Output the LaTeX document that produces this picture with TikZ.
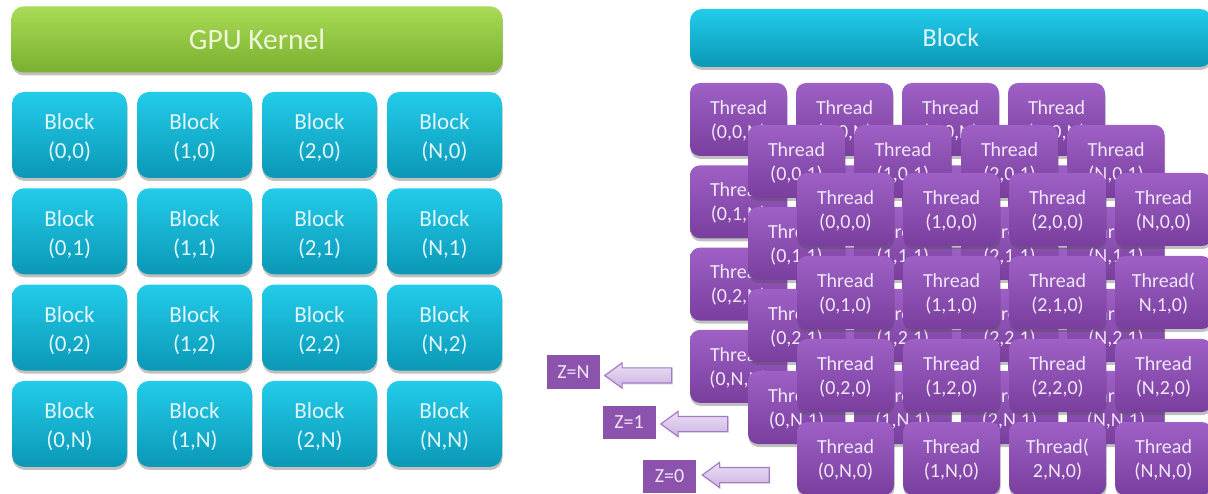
\documentclass[tikz,border=0pt]{standalone}
\usepackage{fontspec}
\setmainfont{Carlito}
\usetikzlibrary{shadows,shapes.arrows}
\definecolor{grnT}{HTML}{A8DB55}
\definecolor{grnB}{HTML}{7AB030}
\definecolor{grnTxt}{HTML}{EEF6D6}
\definecolor{cyT}{HTML}{22CCEA}
\definecolor{cyB}{HTML}{0A98B6}
\definecolor{cyTxt}{HTML}{E2F5F9}
\definecolor{puT}{HTML}{9E60C5}
\definecolor{puB}{HTML}{793E9E}
\definecolor{puTxt}{HTML}{F0E6F6}
\definecolor{zFill}{HTML}{8C53AD}
\definecolor{arrT}{HTML}{EADFF3}
\definecolor{arrB}{HTML}{CDB3E2}
\definecolor{arrD}{HTML}{A57CC4}
% two-line label, shifted down by #1 without changing its reported size
\newcommand\twoline[3]{\raisebox{-#1}[\height][\depth]{\begin{tabular}{@{}c@{}}#2\\#3\end{tabular}}}
\tikzset{
  shad/.style={drop shadow={shadow xshift=0.5pt, shadow yshift=-3pt, opacity=0.35, fill=black!70}},
  hdr/.style={shad, rounded corners=12pt, inner sep=0pt, align=center},
  blk/.style={shad, rounded corners=12pt, top color=cyT, bottom color=cyB, text=cyTxt,
    minimum width=115pt, minimum height=86pt, inner sep=0pt,
    font=\fontsize{23}{29}\selectfont},
  thr/.style={shad, rounded corners=10pt, top color=puT, bottom color=puB, text=puTxt,
    minimum width=97pt, minimum height=73pt, inner sep=0pt,
    font=\fontsize{20}{24}\selectfont},
  zbox/.style={drop shadow={shadow xshift=0.5pt, shadow yshift=-1.5pt, shadow scale=1.04, opacity=0.3},
    fill=zFill, draw=white, line width=4pt, minimum width=57pt, minimum height=37pt,
    inner sep=0pt, text=puTxt, font=\fontsize{20}{24}\selectfont},
  zarrow/.style={single arrow, shape border rotate=180, top color=arrT, bottom color=arrB,
    draw=arrD, line width=1.2pt,
    inner sep=7pt, single arrow head extend=5pt, single arrow tip angle=72,
    minimum height=67pt, drop shadow={shadow xshift=1pt, shadow yshift=-1.5pt, opacity=0.2}}
}
\begin{document}
\begin{tikzpicture}[x=1pt,y=-1pt]
\useasboundingbox (0,0) rectangle (1208,494);
\fill[white] (0,0) rectangle (1208,494);
% left: kernel
\node[hdr, top color=grnT, bottom color=grnB, text=grnTxt, minimum width=491pt, minimum height=66pt,
  font=\fontsize{29.5}{33}\selectfont] (kernel) at (257,39.5) {GPU Kernel};
\foreach \c [count=\i from 0] in {0,1,2,N} {
  \foreach \r [count=\j from 0] in {0,1,2,N} {
    \node[blk] (b-\i-\j) at (69.5+125*\i, 135+96.3*\j) {\twoline{3.5pt}{Block}{(\c,\r)}};
  }
}
% right: block header
\node[hdr, top color=cyT, bottom color=cyB, text=cyTxt, minimum width=522pt, minimum height=58pt,
  font=\fontsize{26}{30}\selectfont] (block) at (951,38) {Block};
% back layer z=N
\foreach \c [count=\i from 0] in {0,1,2,N} {
  \foreach \r [count=\j from 0] in {0,1,2,N} {
    \node[thr] (tN-\i-\j) at (738.5+106*\i, 119.5+82.3*\j) {\twoline{2pt}{Thread}{(\c,\r,N)}};
  }
}
% middle layer z=1
\foreach \c [count=\i from 0] in {0,1,2,N} {
  \foreach \r [count=\j from 0] in {0,1,2,N} {
    \node[thr] (t1-\i-\j) at (796.5+106.5*\i, 161.5+82*\j) {\twoline{2pt}{Thread}{(\c,\r,1)}};
  }
}
% front layer z=0
\node[thr] (t0-0-0) at (845.5,209.5) {\twoline{2pt}{Thread}{(0,0,0)}};
\node[thr] (t0-1-0) at (951.5,209.5) {\twoline{2pt}{Thread}{(1,0,0)}};
\node[thr] (t0-2-0) at (1057.5,209.5) {\twoline{2pt}{Thread}{(2,0,0)}};
\node[thr] (t0-3-0) at (1163.5,209.5) {\twoline{2pt}{Thread}{(N,0,0)}};
\node[thr] (t0-0-1) at (845.5,292.5) {\twoline{2pt}{Thread}{(0,1,0)}};
\node[thr] (t0-1-1) at (951.5,292.5) {\twoline{2pt}{Thread}{(1,1,0)}};
\node[thr] (t0-2-1) at (1057.5,292.5) {\twoline{2pt}{Thread}{(2,1,0)}};
\node[thr] (t0-3-1) at (1163.5,292.5) {\twoline{2pt}{Thread(}{N,1,0)}};
\node[thr] (t0-0-2) at (845.5,375.5) {\twoline{2pt}{Thread}{(0,2,0)}};
\node[thr] (t0-1-2) at (951.5,375.5) {\twoline{2pt}{Thread}{(1,2,0)}};
\node[thr] (t0-2-2) at (1057.5,375.5) {\twoline{2pt}{Thread}{(2,2,0)}};
\node[thr] (t0-3-2) at (1163.5,375.5) {\twoline{2pt}{Thread}{(N,2,0)}};
\node[thr] (t0-0-3) at (845.5,458.5) {\twoline{2pt}{Thread}{(0,N,0)}};
\node[thr] (t0-1-3) at (951.5,458.5) {\twoline{2pt}{Thread}{(1,N,0)}};
\node[thr] (t0-2-3) at (1057.5,458.5) {\twoline{2pt}{Thread(}{2,N,0)}};
\node[thr] (t0-3-3) at (1163.5,458.5) {\twoline{2pt}{Thread}{(N,N,0)}};
% z labels
\node[zbox] (zN) at (573.5,372) {Z=N};
\node[zbox] (z1) at (629,422) {Z=1};
\node[zbox] (z0) at (669.5,476) {Z=0};
\node[zarrow] (aN) at (643.5,375.5) {};
\node[zarrow] (a1) at (699.5,424) {};
\node[zarrow] (a0) at (741,475) {};
\end{tikzpicture}
\end{document}
